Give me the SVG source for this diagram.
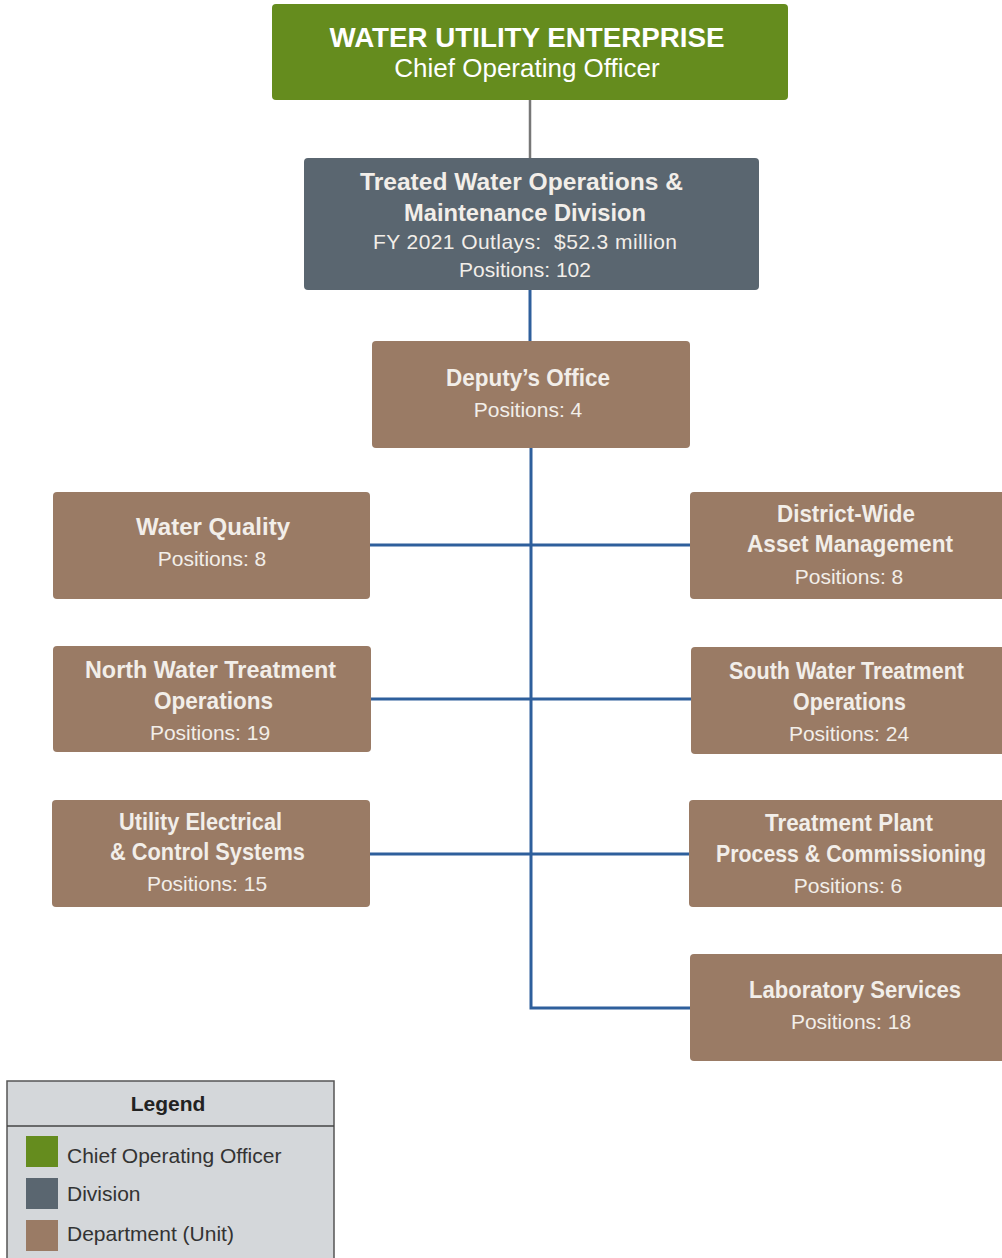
<svg xmlns="http://www.w3.org/2000/svg" width="1002" height="1258" viewBox="0 0 1002 1258">
<style>
text{font-family:"Liberation Sans",Arial,sans-serif;text-anchor:middle}
.t{font-weight:bold;font-size:24px;fill:#F2EEE9}
.s{font-size:21px;fill:#F2EEE9}
.dept{fill:#9A7B65}
.c{stroke:#2E5F9C;stroke-width:3;fill:none}
.lg{font-size:21px;fill:#333;text-anchor:start}
</style>
<rect width="1002" height="1258" fill="#fff"/>
<g id="connectors">
<line x1="530" y1="100" x2="530" y2="158" stroke="#777" stroke-width="2.5"/>
<line class="c" x1="530" y1="290" x2="530" y2="341"/>
<polyline class="c" points="531,448 531,1008 690,1008"/>
<line class="c" x1="370" y1="545" x2="690" y2="545"/>
<line class="c" x1="371" y1="699" x2="691" y2="699"/>
<line class="c" x1="370" y1="854" x2="689" y2="854"/>
</g>
<g id="coo">
<rect x="272" y="4" width="516" height="96" rx="4" fill="#658C1E"/>
<text x="527" y="47" font-weight="bold" font-size="27.5" fill="#fff" textLength="395" lengthAdjust="spacingAndGlyphs">WATER UTILITY ENTERPRISE</text>
<text x="527" y="77" font-size="26" fill="#fff">Chief Operating Officer</text>
</g>
<g id="division">
<rect x="304" y="158" width="455" height="132" rx="4" fill="#5A6670"/>
<text class="t" x="521.5" y="190" font-size="25" textLength="323" lengthAdjust="spacingAndGlyphs">Treated Water Operations &amp;</text>
<text class="t" x="525" y="221" font-size="25" textLength="242" lengthAdjust="spacingAndGlyphs">Maintenance Division</text>
<text class="s" x="525" y="249" textLength="304" lengthAdjust="spacing">FY 2021 Outlays:&#160; $52.3 million</text>
<text class="s" x="525" y="277">Positions: 102</text>
</g>
<g id="deputy">
<rect class="dept" x="372" y="341" width="318" height="107" rx="4"/>
<text class="t" x="528" y="386" textLength="164" lengthAdjust="spacingAndGlyphs">Deputy’s Office</text>
<text class="s" x="528" y="417">Positions: 4</text>
</g>
<g id="water-quality">
<rect class="dept" x="53" y="492" width="317" height="107" rx="4"/>
<text class="t" x="213" y="535" textLength="154" lengthAdjust="spacingAndGlyphs">Water Quality</text>
<text class="s" x="212" y="566">Positions: 8</text>
</g>
<g id="asset-management">
<path class="dept" d="M694,492 H1002 V599 H694 Q690,599 690,595 V496 Q690,492 694,492 Z"/>
<text class="t" x="846" y="522" textLength="138" lengthAdjust="spacingAndGlyphs">District-Wide</text>
<text class="t" x="850" y="552" textLength="206" lengthAdjust="spacingAndGlyphs">Asset Management</text>
<text class="s" x="849" y="584">Positions: 8</text>
</g>
<g id="north-wto">
<rect class="dept" x="53" y="646" width="318" height="106" rx="4"/>
<text class="t" x="210.5" y="678" textLength="251" lengthAdjust="spacingAndGlyphs">North Water Treatment</text>
<text class="t" x="213.5" y="709" textLength="119" lengthAdjust="spacingAndGlyphs">Operations</text>
<text class="s" x="210" y="740">Positions: 19</text>
</g>
<g id="south-wto">
<path class="dept" d="M695,647 H1002 V754 H695 Q691,754 691,750 V651 Q691,647 695,647 Z"/>
<text class="t" x="846.5" y="679" textLength="235" lengthAdjust="spacingAndGlyphs">South Water Treatment</text>
<text class="t" x="849.5" y="710" textLength="113" lengthAdjust="spacingAndGlyphs">Operations</text>
<text class="s" x="849" y="741">Positions: 24</text>
</g>
<g id="electrical">
<rect class="dept" x="52" y="800" width="318" height="107" rx="4"/>
<text class="t" x="200.5" y="830" textLength="163" lengthAdjust="spacingAndGlyphs">Utility Electrical</text>
<text class="t" x="207.5" y="860" textLength="195" lengthAdjust="spacingAndGlyphs">&amp; Control Systems</text>
<text class="s" x="207" y="891">Positions: 15</text>
</g>
<g id="treatment-plant">
<path class="dept" d="M693,800 H1002 V907 H693 Q689,907 689,903 V804 Q689,800 693,800 Z"/>
<text class="t" x="849" y="831" textLength="168" lengthAdjust="spacingAndGlyphs">Treatment Plant</text>
<text class="t" x="851" y="862" font-size="22" textLength="270" lengthAdjust="spacingAndGlyphs">Process &amp; Commissioning</text>
<text class="s" x="848" y="893">Positions: 6</text>
</g>
<g id="laboratory">
<path class="dept" d="M694,954 H1002 V1061 H694 Q690,1061 690,1057 V958 Q690,954 694,954 Z"/>
<text class="t" x="855" y="998" textLength="212" lengthAdjust="spacingAndGlyphs">Laboratory Services</text>
<text class="s" x="851" y="1029">Positions: 18</text>
</g>
<g id="legend">
<path d="M7,1258 V1081 H334 V1258" fill="#D4D7DA" stroke="#555" stroke-width="1.5"/>
<line x1="7" y1="1126" x2="334" y2="1126" stroke="#444" stroke-width="1.5"/>
<text x="168" y="1111" font-weight="bold" font-size="21" fill="#222">Legend</text>
<rect x="26" y="1136" width="32" height="31" fill="#658C1E"/>
<rect x="26" y="1178" width="32" height="31" fill="#5A6670"/>
<rect x="26" y="1220" width="32" height="31" fill="#9A7B65"/>
<text class="lg" x="67" y="1163">Chief Operating Officer</text>
<text class="lg" x="67" y="1201">Division</text>
<text class="lg" x="67" y="1241">Department (Unit)</text>
</g>
</svg>
